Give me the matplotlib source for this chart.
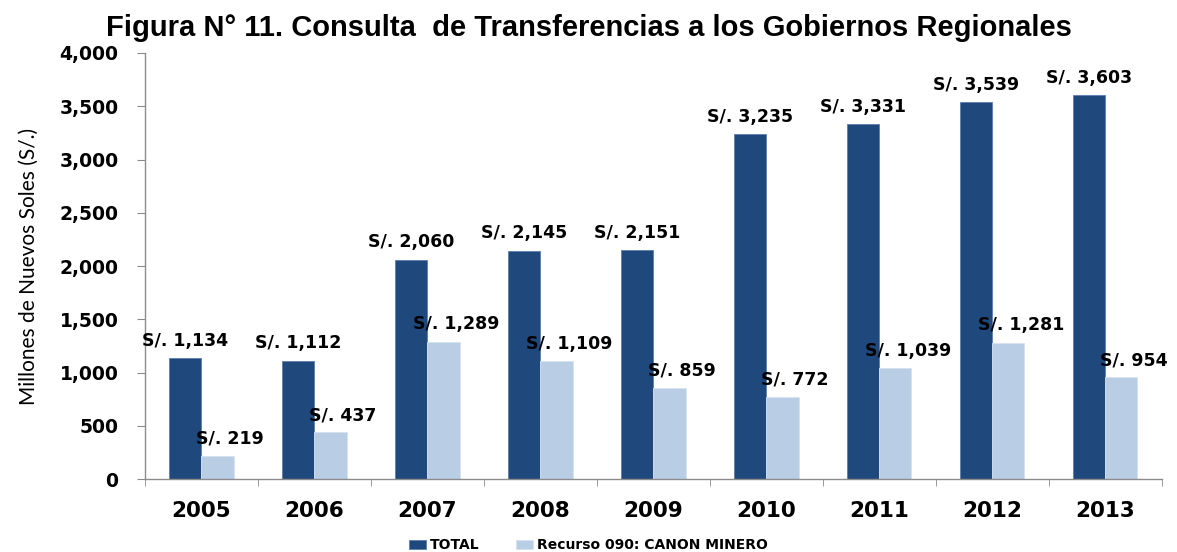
import numpy as np
import matplotlib.pyplot as plt
from matplotlib.ticker import FuncFormatter, FixedLocator

years = ["2005", "2006", "2007", "2008", "2009", "2010", "2011", "2012", "2013"]
total = [1134, 1112, 2060, 2145, 2151, 3235, 3331, 3539, 3603]
canon = [219, 437, 1289, 1109, 859, 772, 1039, 1281, 954]

dark = "#1F497D"
light = "#B9CDE5"

fig = plt.figure(figsize=(11.77, 5.52), dpi=100)
ax = fig.add_axes([0.1232, 0.1322, 0.8638, 0.7718])

x = np.arange(len(years))
w = 0.285
b1 = ax.bar(x - w / 2, total, w, color=dark, edgecolor="#5B7FAF", linewidth=0.6, label="TOTAL")
b2 = ax.bar(x + w / 2, canon, w, color=light, edgecolor="#D6E2F0", linewidth=0.6,
            label="Recurso 090: CANON MINERO")

# data labels
for xi, v in zip(x, total):
    ax.annotate("S/. {:,}".format(v), (xi - w / 2, v), xytext=(0, 6), textcoords="offset points",
                ha="center", va="bottom", fontsize=12.5, fontweight="bold", family="DejaVu Sans")
for xi, v in zip(x, canon):
    ax.annotate("S/. {:,}".format(v), (xi + w / 2, v), xytext=(9, 6), textcoords="offset points",
                ha="center", va="bottom", fontsize=12.5, fontweight="bold", family="DejaVu Sans")

ax.set_xlim(-0.5, len(years) - 0.5)
ax.set_ylim(0, 4000)
ax.set_yticks(np.arange(0, 4001, 500))
ax.yaxis.set_major_formatter(FuncFormatter(lambda v, p: "{:,.0f}".format(v)))
ax.set_xticks(x)
ax.set_xticklabels(years)
ax.xaxis.set_minor_locator(FixedLocator(np.arange(-0.5, len(years), 1.0)))

for s in ["top", "right"]:
    ax.spines[s].set_visible(False)
for s in ["left", "bottom"]:
    ax.spines[s].set_color("#8C8C8C")
    ax.spines[s].set_linewidth(1.0)

ax.tick_params(axis="y", length=6, color="#8C8C8C", labelsize=13.5, pad=13)
ax.tick_params(axis="x", which="major", length=0, labelsize=15.5, pad=16)
ax.tick_params(axis="x", which="minor", length=5, color="#8C8C8C")
for lbl in ax.get_yticklabels() + ax.get_xticklabels():
    lbl.set_fontweight("bold")
    lbl.set_family("DejaVu Sans")

ax.set_ylabel("Millones de Nuevos Soles (S/.)", fontsize=15, family="Lato")
ax.yaxis.set_label_coords(-0.104, 0.5)

fig.text(0.5, 0.949, "Figura N° 11. Consulta  de Transferencias a los Gobiernos Regionales",
         ha="center", va="center", fontsize=21, fontweight="bold", family="Liberation Sans")

fig.legend(handles=[b1, b2], loc="center", bbox_to_anchor=(0.5, 0.012), ncol=2, frameon=False,
           prop={"family": "DejaVu Sans", "weight": "bold", "size": 10},
           handlelength=1.2, handleheight=0.6, handletextpad=0.3, columnspacing=2.6)

fig.savefig("out.png", dpi=100)
